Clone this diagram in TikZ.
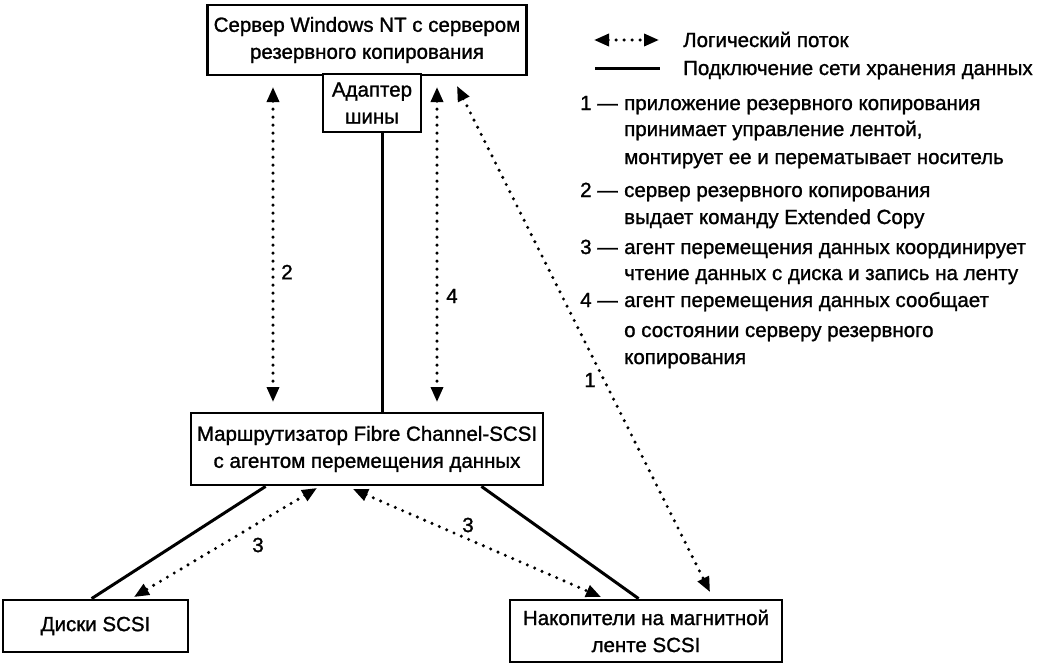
\documentclass[tikz,border=0pt]{standalone}
\usepackage{fontspec}
\setmainfont{Liberation Sans}[FakeBold=1.2]
\usetikzlibrary{arrows.meta}
\begin{document}
\begin{tikzpicture}[x=1pt,y=-1pt,
  box/.style={draw, line width=2.8pt, fill=white, align=center, inner sep=0pt, font=\fontsize{20.5}{27}\selectfont},
  txt/.style={font=\fontsize{20.5}{27}\selectfont, inner sep=0pt},
  flow/.style={line width=3.4pt, dash pattern=on 0pt off 8pt, line cap=round, {Triangle[length=15pt,width=12pt]}-{Triangle[length=15pt,width=12pt]}},
  link/.style={line width=3pt}]
\useasboundingbox (0,0) rectangle (1047,667);

% boxes
\node[box, minimum width=319pt, minimum height=70pt] (srv) at (367,40) {Сервер Windows NT с сервером\\резервного копирования};
\node[box, minimum width=98pt, minimum height=58pt] (ad) at (372,103) {Адаптер\\шины};
\node[box, minimum width=352pt, minimum height=72pt] (rt) at (367,449) {Маршрутизатор Fibre Channel-SCSI\\с агентом перемещения данных};
\node[box, minimum width=185pt, minimum height=52pt] (dk) at (95.5,626) {Диски SCSI};
\node[box, minimum width=272pt, minimum height=62pt] (tp) at (646,631) {Накопители на магнитной\\ленте SCSI};

% solid links
\draw[link] ([xshift=10pt]ad.south) -- ([xshift=10pt]ad.south |- rt.north);
\draw[link] ([xshift=76pt]rt.south west) -- ([xshift=90pt]dk.north west);
\draw[link] ([xshift=-63pt]rt.south east) -- ([xshift=130pt]tp.north west);

% logical flow end points
\coordinate (f2a) at (273,87);  \coordinate (f2b) at (273,402);
\coordinate (f4a) at (437,87);  \coordinate (f4b) at (437,402);
\coordinate (f1a) at (457,86);  \coordinate (f1b) at (710,592);
\coordinate (f3a) at (317,488); \coordinate (f3b) at (134,597);
\coordinate (f5a) at (353,489); \coordinate (f5b) at (601,597);

\draw[flow] (f2a) -- (f2b);
\draw[flow] (f4a) -- (f4b);
\draw[flow] (f1a) -- (f1b);
\draw[flow] (f3a) -- (f3b);
\draw[flow] (f5a) -- (f5b);

\node[txt] (l2) at (287,272) {2};
\node[txt] (l4) at (452,296) {4};
\node[txt] (l1) at (590,380) {1};
\node[txt] (l3a) at (258,545) {3};
\node[txt] (l3b) at (468,525) {3};

% legend
\coordinate (lg1a) at (594,40); \coordinate (lg1b) at (659,40);
\coordinate (lg2a) at (595,68); \coordinate (lg2b) at (660,68);
\draw[flow] (lg1a) -- (lg1b);
\draw[link] (lg2a) -- (lg2b);
\node[txt, anchor=base west] (lt1) at (683,47) {Логический поток};
\node[txt, anchor=base west] (lt2) at (683,75) {Подключение сети хранения данных};

\node[txt, anchor=base west] (n1) at (580,110) {1 —};
\node[txt, anchor=base west] (t1a) at (624,110) {приложение резервного копирования};
\node[txt, anchor=base west] (t1b) at (624,136) {принимает управление лентой,};
\node[txt, anchor=base west] (t1c) at (624,164) {монтирует ее и перематывает носитель};

\node[txt, anchor=base west] (n2) at (580,197) {2 —};
\node[txt, anchor=base west] (t2a) at (624,197) {сервер резервного копирования};
\node[txt, anchor=base west] (t2b) at (624,224) {выдает команду Extended Copy};

\node[txt, anchor=base west] (n3) at (580,254) {3 —};
\node[txt, anchor=base west] (t3a) at (624,254) {агент перемещения данных координирует};
\node[txt, anchor=base west] (t3b) at (624,280) {чтение данных с диска и запись на ленту};

\node[txt, anchor=base west] (n4) at (580,307) {4 —};
\node[txt, anchor=base west] (t4a) at (624,307) {агент перемещения данных сообщает};
\node[txt, anchor=base west] (t4b) at (624,337) {о состоянии серверу резервного};
\node[txt, anchor=base west] (t4c) at (624,364) {копирования};
\end{tikzpicture}
\end{document}
